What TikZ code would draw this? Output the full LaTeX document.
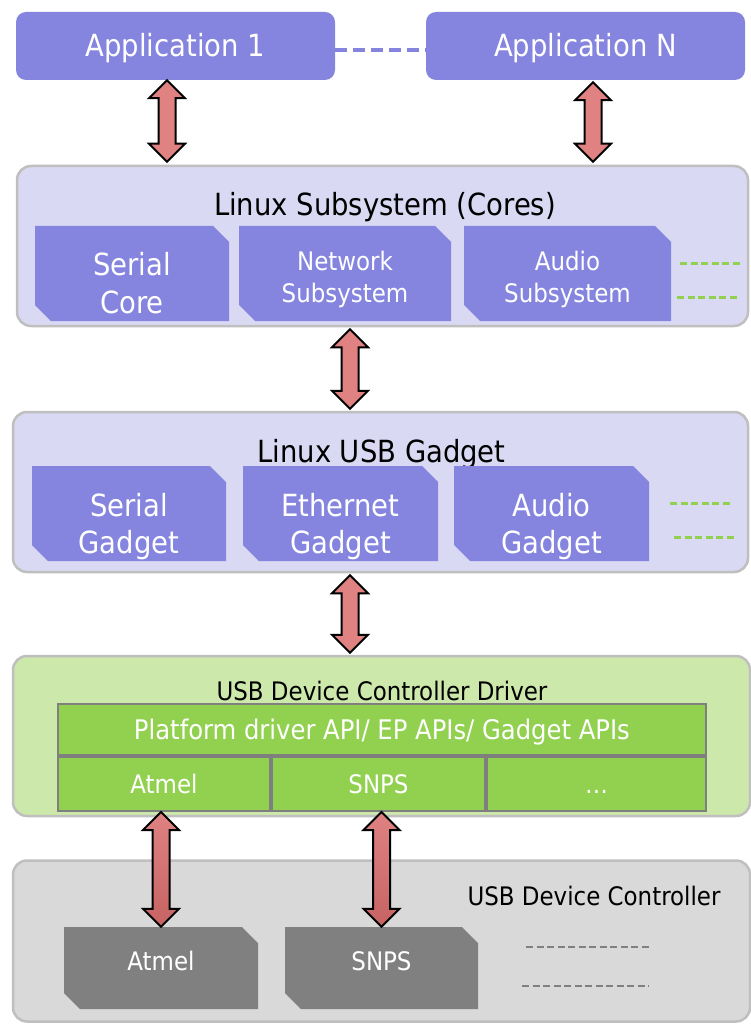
\documentclass[tikz,border=0pt]{standalone}
\usepackage{fontspec}
\setmainfont{DejaVu Sans Condensed}
\usetikzlibrary{calc}

\definecolor{appblue}{HTML}{8585E0}
\definecolor{lavender}{HTML}{D9D9F3}
\definecolor{framegray}{HTML}{BFBFBF}
\definecolor{drvgreen}{HTML}{CDE8AB}
\definecolor{apigreen}{HTML}{92D050}
\definecolor{cellframe}{HTML}{7F7F7F}
\definecolor{ctrlgray}{HTML}{D9D9D9}
\definecolor{chipgray}{HTML}{808080}
\definecolor{arrowred}{HTML}{E08282}
\definecolor{arrowdark}{HTML}{C66363}

% double-headed block arrow between two points on one vertical line
\newcommand\dualarrow[3][]{%
  \draw[blockarr,#1] let \p1=(#2), \p2=(#3) in
    (\x1,\y1) -- (\x1+18pt,\y1-18pt) -- (\x1+8.5pt,\y1-18pt)
    -- (\x1+8.5pt,\y2+18pt) -- (\x1+18pt,\y2+18pt) -- (\x1,\y2)
    -- (\x1-18pt,\y2+18pt) -- (\x1-8.5pt,\y2+18pt)
    -- (\x1-8.5pt,\y1-18pt) -- (\x1-18pt,\y1-18pt) -- cycle;}

\tikzset{
  layer/.style={draw=framegray, line width=2.5pt, rounded corners=14pt,
    inner sep=0pt, minimum height=160pt},
  app/.style={fill=appblue, rounded corners=10pt, minimum width=319pt,
    minimum height=68pt, inner sep=0pt, text=white, big,
    text height=22pt, text depth=0pt},
  cutbox/.style={inner sep=0pt, path picture={
    \fill[#1] (path picture bounding box.north west)
      -- ([xshift=-16pt]path picture bounding box.north east)
      -- ([yshift=-16pt]path picture bounding box.north east)
      -- (path picture bounding box.south east)
      -- ([xshift=16pt]path picture bounding box.south west)
      -- ([yshift=16pt]path picture bounding box.south west) -- cycle;}},
  cell/.style={fill=apigreen, draw=cellframe, line width=2pt, inner sep=0pt,
    text=white, mid, text height=18.6pt, text depth=0pt},
  big/.style={font=\fontsize{30.5}{36}\selectfont},
  mid/.style={font=\fontsize{25.5}{30}\selectfont},
  wtxt/.style={text=white, anchor=base, inner sep=0pt},
  ktxt/.style={text=black, anchor=base, inner sep=0pt},
  blockarr/.style={draw=black, line width=2pt, fill=arrowred, line join=miter},
  appdash/.style={draw=appblue, line width=3.5pt, dash pattern=on 12pt off 6pt},
  gdash/.style={draw=apigreen, line width=3pt, dash pattern=on 7pt off 3.5pt},
  kdash/.style={draw=chipgray, line width=2.5pt, dash pattern=on 7pt off 3.5pt},
}

\begin{document}
\begin{tikzpicture}[x=1pt, y=-1pt]
\useasboundingbox (0,0) rectangle (750,1024);

% applications
\node[app] (app1) at (175.5,46) {Application 1};
\node[app] (appN) at (585.5,46) {Application N};
\draw[appdash] ([yshift=-4pt]app1.east) -- ([yshift=-4pt]appN.west);

% Linux subsystem (cores)
\node[layer, fill=lavender, minimum width=731pt] (sub) at (382.5,246) {};
\node[ktxt, big] (subt) at (385,215) {Linux Subsystem (Cores)};
\node[cutbox=appblue, minimum width=194pt, minimum height=95pt] (score) at (132,273.5) {};
\node[cutbox=appblue, minimum width=212pt, minimum height=95pt] (net) at (345,273.5) {};
\node[cutbox=appblue, minimum width=207pt, minimum height=95pt] (aud) at (567.5,273.5) {};
\node[wtxt, big] (score1) at (132,275) {Serial};
\node[wtxt, big] (score2) at (132,313) {Core};
\node[wtxt, mid] (net1) at (345,270) {Network};
\node[wtxt, mid] (net2) at (345,302) {Subsystem};
\node[wtxt, mid] (aud1) at (567.5,270) {Audio};
\node[wtxt, mid] (aud2) at (567.5,302) {Subsystem};
\draw[gdash] (680,263) -- (742,263);
\draw[gdash] (677,297) -- (739,297);

% Linux USB gadget
\node[layer, fill=lavender, minimum width=735pt] (gad) at (380.5,492) {};
\node[ktxt, big] (gadt) at (381.5,462) {Linux USB Gadget};
\node[cutbox=appblue, minimum width=194pt, minimum height=95pt] (sg) at (129,513.5) {};
\node[cutbox=appblue, minimum width=195pt, minimum height=95pt] (eg) at (340.5,513.5) {};
\node[cutbox=appblue, minimum width=195pt, minimum height=95pt] (ag) at (551.5,513.5) {};
\node[wtxt, big] (sg1) at (129,516) {Serial};
\node[wtxt, big] (sg2) at (129,553) {Gadget};
\node[wtxt, big] (eg1) at (340.5,516) {Ethernet};
\node[wtxt, big] (eg2) at (340.5,553) {Gadget};
\node[wtxt, big] (ag1) at (551.5,516) {Audio};
\node[wtxt, big] (ag2) at (551.5,553) {Gadget};
\draw[gdash] (670,503) -- (732,503);
\draw[gdash] (674,537) -- (734,537);

% USB device controller driver
\node[layer, fill=drvgreen, minimum width=737pt] (drv) at (381.5,736) {};
\node[ktxt, mid] (drvt) at (382,700) {USB Device Controller Driver};
\node[cell, minimum width=648pt, minimum height=51pt,
  font=\fontsize{27}{32}\selectfont, text height=19.7pt] (api) at (382,729.5)
  {Platform driver API/ EP APIs/ Gadget APIs};
\node[cell, minimum width=212pt, minimum height=54pt] (atc) at (164,784) {Atmel};
\node[cell, minimum width=213pt, minimum height=54pt] (snc) at (378.5,784) {SNPS};
\node[cell, minimum width=219pt, minimum height=54pt] (etc) at (596.5,784) {\dots};

% USB device controller
\node[layer, fill=ctrlgray, minimum width=737pt, minimum height=161pt] (ctl) at (381.5,941) {};
\node[ktxt, mid] (ctlt) at (594,905) {USB Device Controller};
\node[cutbox=chipgray, minimum width=194pt, minimum height=82pt] (atchip) at (161,968) {};
\node[cutbox=chipgray, minimum width=193pt, minimum height=82pt] (snchip) at (381.5,968) {};
\node[wtxt, mid] (atchipt) at (161,970) {Atmel};
\node[wtxt, mid] (snchipt) at (381.5,970) {SNPS};
\draw[kdash] (526,947) -- (652,947);
\draw[kdash] (522,986) -- (649,986);

% connections between the layers
\coordinate (a1t) at ([xshift=-8.5pt]app1.south);
\coordinate (a1b) at ($(a1t |- sub.north)+(0,-3)$);
\coordinate (aNt) at ($([xshift=7.5pt]appN.south)+(0,2)$);
\coordinate (aNb) at ($(aNt |- sub.north)+(0,-3)$);
\coordinate (m1t) at ($(sub.south)+(-32.5,2)$);
\coordinate (m1b) at ($(m1t |- gad.north)+(0,-2)$);
\coordinate (m2t) at ($(gad.south)+(-30.5,2)$);
\coordinate (m2b) at ($(m2t |- drv.north)+(0,-2)$);
\coordinate (b1t) at (atchip.north |- atc.south);
\coordinate (b2t) at (snchip.north |- snc.south);
\dualarrow{a1t}{a1b}
\dualarrow{aNt}{aNb}
\dualarrow{m1t}{m1b}
\dualarrow{m2t}{m2b}
\dualarrow[top color=arrowred, bottom color=arrowdark]{b1t}{atchip.north}
\dualarrow[top color=arrowred, bottom color=arrowdark]{b2t}{snchip.north}
\end{tikzpicture}
\end{document}
